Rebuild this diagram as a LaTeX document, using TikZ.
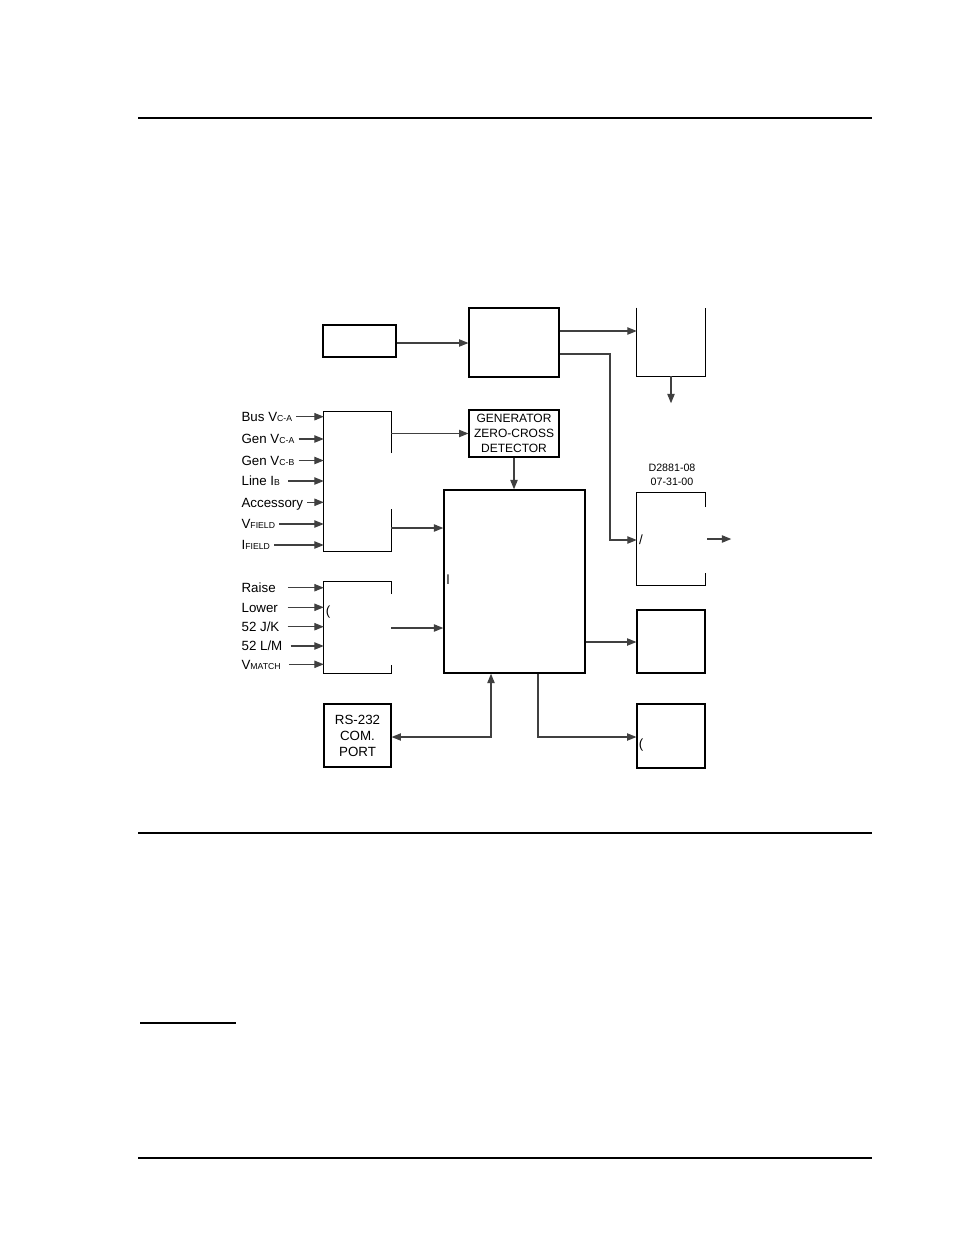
\documentclass[tikz,border=0pt]{standalone}
\usepackage{fontspec}
\setmainfont{Liberation Sans}
\usetikzlibrary{arrows.meta}

\tikzset{
  blk/.style={draw,line width=0.9pt,inner sep=0pt,align=center},
  open/.style={inner sep=0pt},
  lbl/.style={anchor=west,inner sep=1pt,text height=7.2pt,text depth=0pt,font=\fontsize{10}{12}\selectfont},
  arr/.style={black!75,line width=0.8pt,-{Triangle[length=7pt,width=5.5pt]}},
  inarr/.style={arr,shorten <=2pt},
  biarr/.style={black!75,line width=0.8pt,{Triangle[length=7pt,width=5.5pt]}-{Triangle[length=7pt,width=5.5pt]}},
  pagerule/.style={line width=1pt},
  frag/.style={inner sep=0pt,font=\fontsize{10}{12}\selectfont},
}
\newcommand{\smallsub}[1]{{\fontsize{6.5}{7}\selectfont #1}}

\begin{document}
\begin{tikzpicture}[x=0.75pt,y=-0.75pt]
  \useasboundingbox (0,0) rectangle (954,1235);
  % page rules
  \draw[pagerule] (138,118) -- (872,118);
  \draw[pagerule] (138,833) -- (872,833);
  \draw[pagerule] (140,1023) -- (236,1023);
  \draw[pagerule] (138,1158) -- (872,1158);

  % blocks
  \node[blk,minimum width=54.75pt,minimum height=24pt] (supply) at (359.5,341) {};
  \node[blk,minimum width=67.5pt,minimum height=51.75pt] (power) at (514,342.5) {};
  \node[open,minimum width=51pt,minimum height=51pt] (relay) at (671,342) {};
  \draw[line width=0.9pt] (relay.north west) -- (relay.south west) -- (relay.south east) -- (relay.north east);
  \node[open,minimum width=50.25pt,minimum height=105pt] (sense) at (357.5,481.5) {};
  \draw[line width=0.9pt] (sense.north east |- 0,453) -- (sense.north east) -- (sense.north west)
    -- (sense.south west) -- (sense.south east) -- (sense.south east |- 0,509);
  \node[blk,minimum width=67.5pt,minimum height=35.25pt,font=\fontsize{9}{11.25}\selectfont] (zcd) at (514,433.5) {GENERATOR\\ZERO-CROSS\\DETECTOR};
  \node[blk,line width=1.1pt,minimum width=105.75pt,minimum height=137.25pt] (micro) at (514.5,581.5) {};
  \node[open,minimum width=51pt,minimum height=69pt] (outa) at (671,539) {};
  \draw[line width=0.9pt] (outa.north east |- 0,507) -- (outa.north east) -- (outa.north west)
    -- (outa.south west) -- (outa.south east) -- (outa.south east |- 0,573);
  \node[open,minimum width=50.25pt,minimum height=68.25pt] (ctl) at (357.5,627.5) {};
  \draw[line width=0.9pt] (ctl.north east |- 0,594) -- (ctl.north east) -- (ctl.north west)
    -- (ctl.south west) -- (ctl.south east) -- (ctl.south east |- 0,665);
  \node[blk,minimum width=51pt,minimum height=47.25pt] (outb) at (671,641.5) {};
  \node[blk,minimum width=51pt,minimum height=48pt] (outc) at (671,736) {};
  \node[blk,minimum width=50.25pt,minimum height=47.25pt,font=\fontsize{10}{12}\selectfont] (com) at (357.5,735.5) {RS-232\\COM.\\PORT};
  \node[align=center,font=\fontsize{8}{10.5}\selectfont] (dwg) at (672,475) {D2881-08\\07-31-00};

  % text fragments
  \node[frag] (fragctl) at (328,612) {(};
  \node[frag] (fragouta) at (641,540) {/};
  \node[frag] (fragmicro) at (448,580) {l};
  \node[frag] (fragoutc) at (641,745) {(};

  % connectors
  \draw[arr] (supply.east |- 0,343) -- (power.west |- 0,343);
  \draw[arr] (power.east |- 0,331) -- (relay.west |- 0,331);
  \draw[arr] (power.east |- 0,354) -- (610,354) -- (610,540) -- (outa.west |- 0,540);
  \draw[arr] (relay.south) -- ++(0,27);
  \draw[arr] (sense.east |- zcd.west) -- (zcd.west);
  \draw[arr] (zcd.south) -- (zcd.south |- micro.north);
  \draw[arr] (sense.east |- 0,528) -- (micro.west |- 0,528);
  \draw[arr] (ctl.east |- 0,628) -- (micro.west |- 0,628);
  \draw[arr] (micro.east |- 0,642) -- (outb.west |- 0,642);
  \draw[arr] (micro.south -| 538,0) -- (538,737) -- (outc.west |- 0,737);
  \draw[biarr] (micro.south -| 491,0) -- (491,737) -- (com.east |- 0,737);
  \draw[arr] ([xshift=1.5pt]outa.east) -- ++(24,0);

  % sensing inputs
  \node[lbl] (busvca) at (240,416.7) {Bus V\smallsub{C-A}};
  \draw[inarr] (busvca.east) -- (busvca.east -| sense.west);
  \node[lbl] (genvca) at (240,439) {Gen V\smallsub{C-A}};
  \draw[inarr] (genvca.east) -- (genvca.east -| sense.west);
  \node[lbl] (genvcb) at (240,460.5) {Gen V\smallsub{C-B}};
  \draw[inarr] (genvcb.east) -- (genvcb.east -| sense.west);
  \node[lbl] (lineib) at (240,481) {Line I\smallsub{B}};
  \draw[inarr] ([xshift=3pt]lineib.east) -- (lineib.east -| sense.west);
  \node[lbl] (access) at (240,502.3) {Accessory};
  \draw[inarr] (access.east) -- (access.east -| sense.west);
  \node[lbl] (vfield) at (240,524) {V\smallsub{FIELD}};
  \draw[inarr] (vfield.east) -- (vfield.east -| sense.west);
  \node[lbl] (ifield) at (240,545) {I\smallsub{FIELD}};
  \draw[inarr] (ifield.east) -- (ifield.east -| sense.west);

  % contact inputs
  \node[lbl] (raise) at (240,587.7) {Raise};
  \draw[inarr] ([xshift=6pt]raise.east) -- (raise.east -| ctl.west);
  \node[lbl] (lower) at (240,607.3) {Lower};
  \draw[inarr] ([xshift=4pt]lower.east) -- (lower.east -| ctl.west);
  \node[lbl] (jk) at (240,626.7) {52 J/K};
  \draw[inarr] ([xshift=3pt]jk.east) -- (jk.east -| ctl.west);
  \node[lbl] (lm) at (240,646) {52 L/M};
  \draw[inarr] ([xshift=3pt]lm.east) -- (lm.east -| ctl.west);
  \node[lbl] (vmatch) at (240,664.3) {V\smallsub{MATCH}};
  \draw[inarr] ([xshift=3pt]vmatch.east) -- (vmatch.east -| ctl.west);
\end{tikzpicture}
\end{document}
